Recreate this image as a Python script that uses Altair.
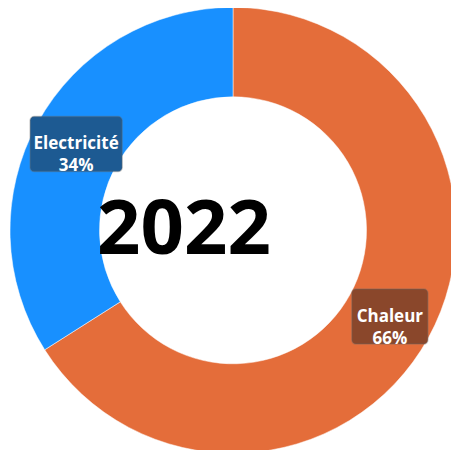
import altair as alt
import pandas as pd

categories = ["Chaleur", "Electricité"]
values = [66, 34]
orders = [0, 1]
colors = ["#E46D3A", "#1890FF"]
box_colors = ["#8A472B", "#1D5A92"]
year_label = "2022"

df = pd.DataFrame({"cat": categories, "value": values, "order": orders})

W, H = 443, 442
CX, CY = 225, 222.3
R_OUT, R_IN, R_LAB = 223, 133.5, 179

base = alt.Chart(df)

arcs = base.mark_arc(outerRadius=R_OUT, innerRadius=R_IN, stroke="white", strokeWidth=0.5).encode(
    theta=alt.Theta("value:Q", stack=True),
    order=alt.Order("order:Q"),
    color=alt.Color("cat:N", scale=alt.Scale(domain=categories, range=colors), legend=None),
    x=alt.value(CX),
    y=alt.value(CY),
)

lab = base.transform_joinaggregate(
    total="sum(value)"
).transform_window(
    cum="sum(value)", sort=[alt.SortField("order")], frame=[None, 0]
).transform_calculate(
    mid="(datum.cum - datum.value/2) / datum.total * 2 * PI",
).transform_calculate(
    lx=f"{CX} + {R_LAB} * sin(datum.mid)",
    ly=f"{CY} - {R_LAB} * cos(datum.mid)",
    bw="4 * length(datum.cat) + 48",
    txt="datum.cat + '|' + datum.value + '%'",
).transform_calculate(
    x1="datum.lx - datum.bw/2",
    x2="datum.lx + datum.bw/2",
    y1="datum.ly - 27.5",
    y2="datum.ly + 27.5",
)

boxes = lab.mark_rect(cornerRadius=4, stroke="#666666", strokeOpacity=0.35, strokeWidth=1.5).encode(
    x=alt.X("x1:Q", scale=None),
    x2="x2:Q",
    y=alt.Y("y1:Q", scale=None),
    y2="y2:Q",
    fill=alt.Fill("cat:N", scale=alt.Scale(domain=categories, range=box_colors), legend=None),
)

texts = lab.mark_text(
    lineBreak="|", fontSize=17, fontWeight="bold", font="Open Sans", color="white",
    align="center", baseline="middle", lineHeight=22,
).encode(
    x=alt.X("lx:Q", scale=None),
    y=alt.Y("ly:Q", scale=None),
    text="txt:N",
)

year = alt.Chart(pd.DataFrame({"t": [year_label]})).mark_text(
    fontSize=76, fontWeight="bold", font="Open Sans", color="black",
    align="center", baseline="alphabetic",
).encode(
    x=alt.value(176), y=alt.value(246), text="t:N"
)

chart = alt.layer(arcs, boxes, texts, year).properties(
    width=W, height=H, padding=0, autosize=alt.AutoSizeParams(type="none")
).configure_view(stroke=None)

chart.save("out.html", embed_options={"renderer": "svg", "actions": False})
